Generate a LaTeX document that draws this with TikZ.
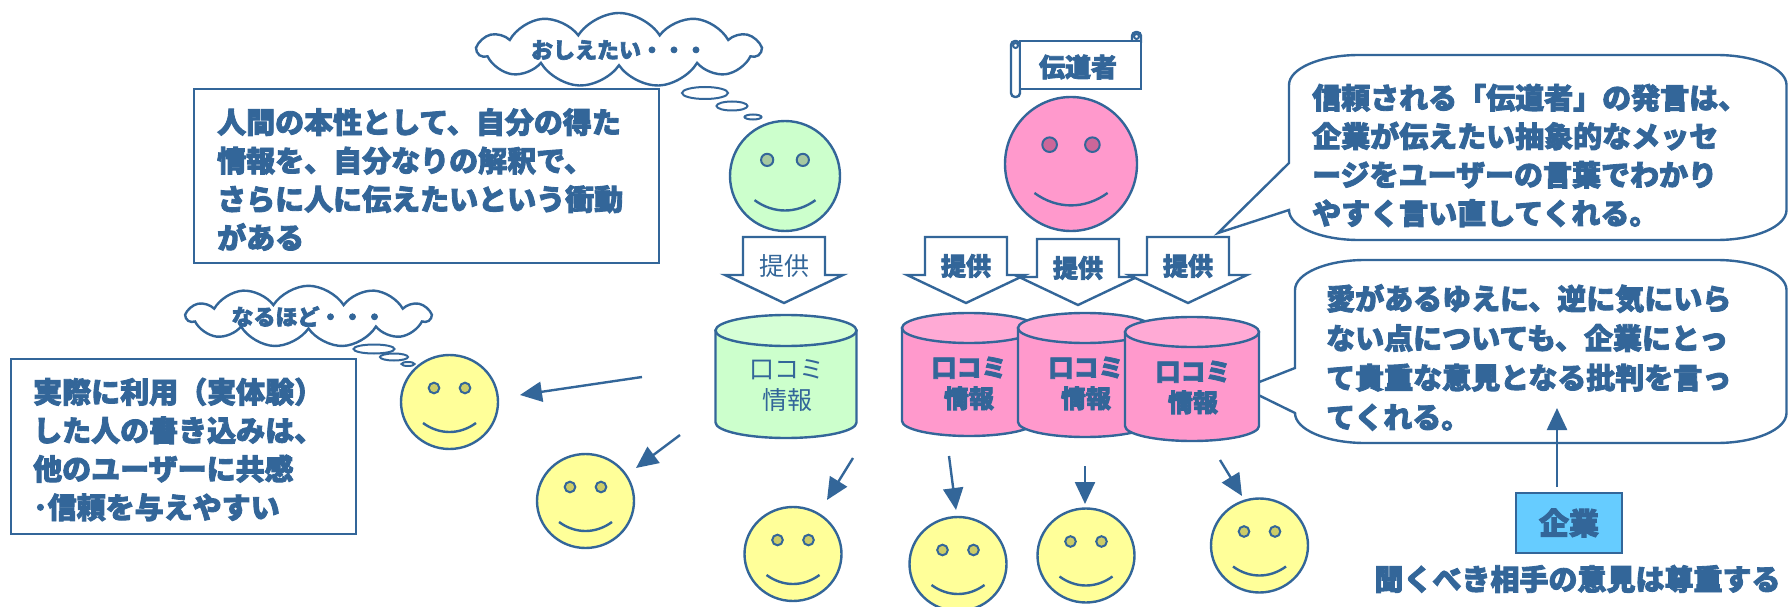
\documentclass[tikz,border=0pt]{standalone}
\usepackage{fontspec}
\setmainfont{Noto Sans CJK JP}[BoldFeatures={FakeBold=3}]
\usetikzlibrary{shapes.geometric,shapes.symbols,arrows.meta}

\definecolor{ink}{RGB}{51,102,153}
\definecolor{faceyellow}{RGB}{255,255,153}
\definecolor{eyeyellow}{RGB}{204,204,102}
\definecolor{facegreen}{RGB}{204,255,204}
\definecolor{eyegreen}{RGB}{166,201,160}
\definecolor{topgreen}{RGB}{214,255,214}
\definecolor{facepink}{RGB}{255,153,204}
\definecolor{eyepink}{RGB}{204,102,153}
\definecolor{toppink}{RGB}{255,170,213}
\definecolor{corpblue}{RGB}{102,204,255}

% block arrow labelled "provide": #1 centre x, #2 top y
\newcommand\offerarrow[2]{%
  \draw[outline, fill=white] (#1-41,#2) -- (#1+41,#2) -- (#1+41,#2+38) -- (#1+59,#2+38)
    -- (#1,#2+66) -- (#1-59,#2+38) -- (#1-41,#2+38) -- cycle;}

% data cylinder: #1 cx, #2 top-ellipse y, #3 bottom-ellipse y, #4 rx, #5 ry, #6 body, #7 lid
\newcommand\datacyl[7]{%
  \filldraw[outline, fill=#6] (#1-#4,#2) -- (#1-#4,#3)
    arc[start angle=180, end angle=360, x radius=#4pt, y radius=#5pt] -- (#1+#4,#2) -- cycle;
  \filldraw[outline, fill=#7] (#1,#2) ellipse[x radius=#4pt, y radius=#5pt];}

\begin{document}
\begin{tikzpicture}[x=1pt, y=-1pt,
  outline/.style={draw=ink, line width=2.4pt},
  ptr/.style={draw=ink, line width=2.4pt, -{Triangle[length=22pt,width=20pt]}},
  face/.style={ellipse, outline, inner sep=0pt},
  yface/.style={face, fill=faceyellow, minimum width=97pt, minimum height=94pt},
  frame/.style={outline, fill=white, inner sep=0pt},
  bigtext/.style={text=ink, inner sep=0pt, anchor=west, align=left,
    font=\fontsize{29pt}{38.5pt}\selectfont\bfseries},
  thought/.style={cloud, outline, fill=white, cloud puffs=11, cloud puff arc=115,
    cloud ignores aspect, inner sep=0pt, text=ink,
    font=\fontsize{22pt}{24pt}\selectfont\bfseries},
  puff/.style={ellipse, draw=ink, line width=2pt, fill=white, inner sep=0pt},
  offertext/.style={text=ink, inner sep=0pt, font=\fontsize{25pt}{28pt}\selectfont},
  cyltext/.style={text=ink, inner sep=0pt, align=center, font=\fontsize{25pt}{31pt}\selectfont},
  pics/features/.style={code={
    \filldraw[draw=ink, line width=2pt, fill=#1] (-15.5,-14) circle[radius=5.3pt];
    \filldraw[draw=ink, line width=2pt, fill=#1] (15.5,-14) circle[radius=5.3pt];
    \draw[ink, line width=2.4pt] (-26.5,21) .. controls (-10,33) and (10,33) .. (26.5,21);
  }}
]
\useasboundingbox (0,0) rectangle (1791,607);

% ---------- thought clouds ----------
\node[thought, minimum width=282pt, minimum height=74pt] (cloudA) at (619,50) {おしえたい・・・};
\node[puff, minimum width=46pt, minimum height=12pt] (cloudA1) at (705,93) {};
\node[puff, minimum width=31pt, minimum height=9pt] (cloudA2) at (732,106) {};
\node[puff, minimum width=17pt, minimum height=5pt] (cloudA3) at (753,117) {};

\node[thought, minimum width=243pt, minimum height=57pt] (cloudB) at (308.5,316.5) {なるほど・・・};
\node[puff, minimum width=41pt, minimum height=9pt] (cloudB1) at (374,349) {};
\node[puff, minimum width=28pt, minimum height=7pt] (cloudB2) at (394,357) {};
\node[puff, minimum width=13pt, minimum height=4pt] (cloudB3) at (408,364) {};

% ---------- text boxes ----------
\node[frame, minimum width=465pt, minimum height=174pt] (boxA) at (426.5,176) {};
\node[bigtext] (boxAtext) at (217,179.5)
  {人間の本性として、自分の得た\\情報を、自分なりの解釈で、\\さらに人に伝えたいという衝動\\がある};

\node[frame, minimum width=345pt, minimum height=175pt] (boxB) at (183.5,446.5) {};
\node[bigtext] (boxBtext) at (33,449.5)
  {実際に利用（実体験）\\した人の書き込みは、\\他のユーザーに共感\\･信頼を与えやすい};

% ---------- speech bubbles ----------
\draw[outline, fill=white] (1289,163) -- (1218,233) -- (1289,210)
  arc[start angle=180, end angle=270, x radius=70pt, y radius=30pt] -- (1716.5,240)
  arc[start angle=270, end angle=360, x radius=70pt, y radius=30pt] -- (1786.5,85)
  arc[start angle=0, end angle=90, x radius=70pt, y radius=30pt] -- (1359,55)
  arc[start angle=90, end angle=180, x radius=70pt, y radius=30pt] -- cycle;
\node[bigtext] (bubbleAtext) at (1312,155.5)
  {信頼される「伝道者」の発言は、\\企業が伝えたい抽象的なメッセ\\ージをユーザーの言葉でわかり\\やすく言い直してくれる。};

\draw[outline, fill=white] (1295,368) -- (1244,388) -- (1295,413)
  arc[start angle=180, end angle=270, x radius=70pt, y radius=30pt] -- (1716.5,443)
  arc[start angle=270, end angle=360, x radius=70pt, y radius=30pt] -- (1786.5,290)
  arc[start angle=0, end angle=90, x radius=70pt, y radius=30pt] -- (1365,260)
  arc[start angle=90, end angle=180, x radius=70pt, y radius=30pt] -- cycle;
\node[bigtext, font=\fontsize{29pt}{39.5pt}\selectfont\bfseries] (bubbleBtext) at (1326,357.5)
  {愛があるゆえに、逆に気にいら\\ない点についても、企業にとっ\\て貴重な意見となる批判を言っ\\てくれる。};

% ---------- evangelist ----------
\draw[outline, fill=white, rounded corners=4pt] (1011,41) rectangle (1020,97);
\draw[outline, fill=white, rounded corners=4pt] (1132,32) rectangle (1141,46);
\node[frame, minimum width=121pt, minimum height=48pt] (scroll) at (1080.5,65) {};
\draw[ink, line width=2pt] (1015.5,45.5) circle[radius=2.5pt];
\draw[ink, line width=2pt] (1136.5,36.5) circle[radius=2.5pt];
\node[text=ink, inner sep=0pt, font=\fontsize{26pt}{28pt}\selectfont\bfseries] (scrolltext) at (1078,67) {伝道者};

\node[face, fill=facepink, minimum width=132pt, minimum height=134pt] (preacher) at (1071,164) {};
\pic[scale=1.38] at (preacher) {features=eyepink};

% ---------- sharer ----------
\node[face, fill=facegreen, minimum width=110pt, minimum height=110pt] (sharer) at (785,176) {};
\pic[scale=1.15] at (sharer) {features=eyegreen};

% ---------- provide arrows ----------
\offerarrow{784}{237}
\node[offertext] (offerG) at (784,266) {提供};
\offerarrow{966}{237}
\node[offertext, font=\fontsize{25pt}{28pt}\selectfont\bfseries] (offerP1) at (966,266) {提供};
\offerarrow{1078}{239}
\node[offertext, font=\fontsize{25pt}{28pt}\selectfont\bfseries] (offerP2) at (1078,268) {提供};
\offerarrow{1188}{237}
\node[offertext, font=\fontsize{25pt}{28pt}\selectfont\bfseries] (offerP3) at (1188,266) {提供};

% ---------- word-of-mouth stores ----------
\datacyl{786}{330.5}{422.5}{70.5}{15.5}{facegreen}{topgreen}
\node[cyltext] (storeG) at (787,386) {口コミ\\情報};
\datacyl{969}{328}{421}{67}{15}{facepink}{toppink}
\node[cyltext, font=\fontsize{25pt}{31pt}\selectfont\bfseries] (storeP1) at (969,383.5) {口コミ\\情報};
\datacyl{1085}{328}{422}{67}{15}{facepink}{toppink}
\node[cyltext, font=\fontsize{25pt}{31pt}\selectfont\bfseries] (storeP2) at (1086,383.5) {口コミ\\情報};
\datacyl{1192}{332}{426}{67}{15}{facepink}{toppink}
\node[cyltext, font=\fontsize{25pt}{31pt}\selectfont\bfseries] (storeP3) at (1193,387.5) {口コミ\\情報};

% ---------- readers ----------
\node[yface] (readerE) at (449.5,402) {};
\node[yface] (readerF) at (585.5,501) {};
\node[yface] (readerA) at (793,554) {};
\node[yface] (readerB) at (958,564) {};
\node[yface] (readerC) at (1086,555.5) {};
\node[yface] (readerD) at (1259.5,545.5) {};
\foreach \r in {readerE,readerF,readerA,readerB,readerC,readerD}
  \pic at (\r) {features=eyeyellow};

\coordinate (eS) at (642,377); \coordinate (eT) at (520,395);
\coordinate (fS) at (680,435); \coordinate (fT) at (636,468);
\coordinate (aS) at (853,458); \coordinate (aT) at (827,500);
\coordinate (bS) at (949,456); \coordinate (bT) at (956,510);
\coordinate (cS) at (1085,466); \coordinate (cT) at (1085,504);
\coordinate (dS) at (1220,460); \coordinate (dT) at (1242,496);
\draw[ptr] (eS) -- (eT);
\draw[ptr] (fS) -- (fT);
\draw[ptr] (aS) -- (aT);
\draw[ptr] (bS) -- (bT);
\draw[ptr] (cS) -- (cT);
\draw[ptr] (dS) -- (dT);

% ---------- company ----------
\node[outline, fill=corpblue, minimum width=106pt, minimum height=60pt, inner sep=0pt,
  text=ink, font=\fontsize{30pt}{32pt}\selectfont\bfseries] (corp) at (1569,523) {企業};
\coordinate (uS) at (1557,487); \coordinate (uT) at (1557,408);
\draw[ptr] (uS) -- (uT);
\node[text=ink, inner sep=0pt, font=\fontsize{29pt}{32pt}\selectfont\bfseries] (respect) at (1577.5,579)
  {聞くべき相手の意見は尊重する};

\end{tikzpicture}
\end{document}
